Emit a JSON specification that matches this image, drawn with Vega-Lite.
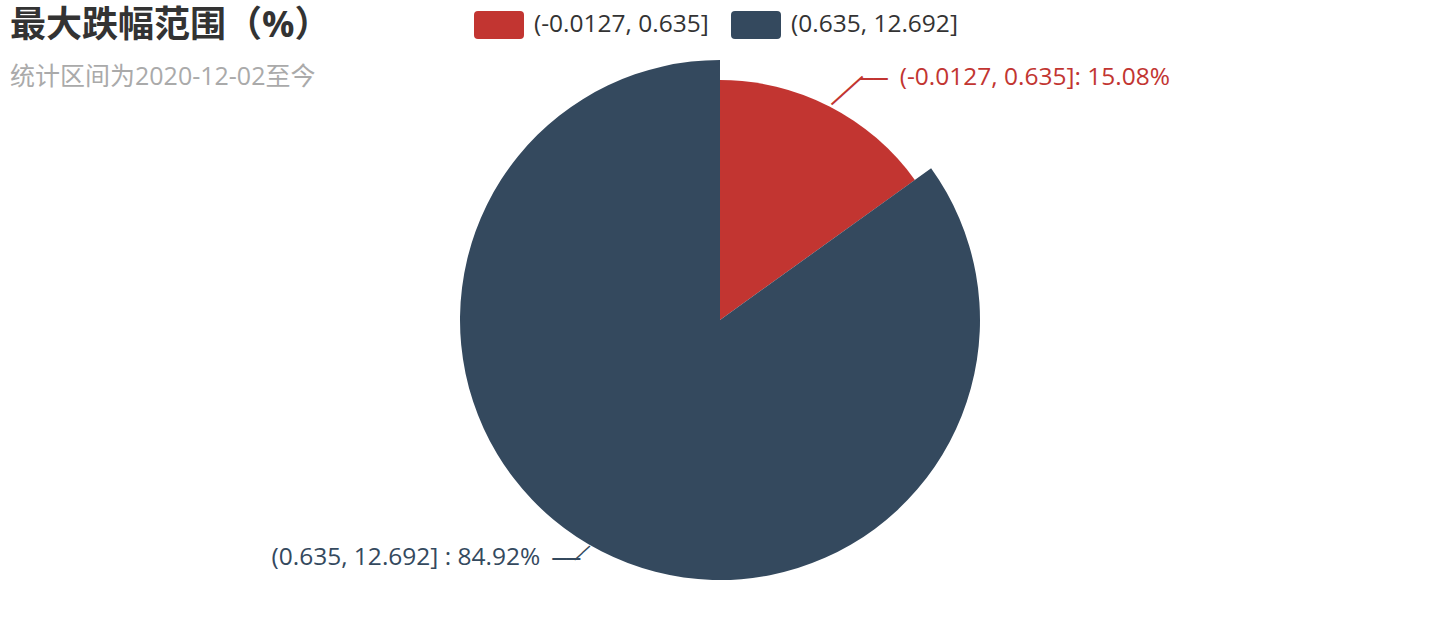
{
  "$schema": "https://vega.github.io/schema/vega-lite/v6.json",
  "width": 1440,
  "height": 640,
  "autosize": {"type": "none"},
  "padding": 0,
  "background": "white",
  "config": {"view": {"stroke": null}},
  "title": {
    "text": "最大跌幅范围（%）",
    "subtitle": "统计区间为2020-12-02至今",
    "anchor": "start",
    "frame": "group",
    "orient": "top",
    "baseline": "top",
    "offset": 0,
    "dx": 10,
    "dy": 91,
    "font": "'Open Sans', 'Noto Sans CJK SC'",
    "fontSize": 36,
    "fontWeight": "bold",
    "color": "#333333",
    "subtitleFont": "'Open Sans', 'Noto Sans CJK SC'",
    "subtitleFontSize": 25,
    "subtitleColor": "#aaaaaa",
    "subtitlePadding": 20
  },
  "data": {
    "values": [
      {"range": "(-0.0127, 0.635]", "pct": 15.08, "label": "(-0.0127, 0.635]: 15.08%"},
      {"range": "(0.635, 12.692]", "pct": 84.92, "label": "(0.635, 12.692] : 84.92%"}
    ]
  },
  "encoding": {
    "theta": {"field": "pct", "type": "quantitative", "stack": true},
    "color": {
      "field": "range",
      "type": "nominal",
      "scale": {"domain": ["(-0.0127, 0.635]", "(0.635, 12.692]"], "range": ["#c23531", "#34495e"]},
      "legend": {
        "title": null,
        "orient": "none",
        "direction": "horizontal",
        "legendX": 474,
        "legendY": 0,
        "padding": 0,
        "symbolType": "M-0.84,-0.56L0.84,-0.56Q1,-0.56 1,-0.4L1,0.4Q1,0.56 0.84,0.56L-0.84,0.56Q-1,0.56 -1,0.4L-1,-0.4Q-1,-0.56 -0.84,-0.56Z",
        "symbolSize": 2500,
        "symbolStrokeWidth": 0,
        "symbolOpacity": 1,
        "labelFont": "'Open Sans', 'Noto Sans CJK SC'",
        "labelFontSize": 24.5,
        "labelColor": "#333333",
        "labelLimit": 0,
        "labelOffset": 10,
        "columnPadding": 22
      }
    }
  },
  "layer": [
    {
      "mark": {"type": "arc", "strokeWidth": 0},
      "encoding": {
        "radius": {"field": "pct", "type": "quantitative", "scale": {"type": "linear", "domain": [15.08, 84.92], "range": [240, 260], "zero": false}},
        "radius2": {"value": 0}
      }
    },
    {
      "mark": {"type": "text", "align": "left", "baseline": "middle", "dx": 52, "dy": 7, "font": "'Open Sans', 'Noto Sans CJK SC'", "fontSize": 24.5},
      "encoding": {
        "radius": {"value": 280},
        "text": {"condition": {"test": "datum.range === '(-0.0127, 0.635]'", "field": "label"}, "value": ""}
      }
    },
    {
      "mark": {"type": "text", "align": "right", "baseline": "middle", "dx": -52, "dy": -11, "font": "'Open Sans', 'Noto Sans CJK SC'", "fontSize": 24.5},
      "encoding": {
        "radius": {"value": 280},
        "text": {"condition": {"test": "datum.range === '(0.635, 12.692]'", "field": "label"}, "value": ""}
      }
    },
    {
      "mark": {"type": "text", "align": "center", "baseline": "middle", "dx": 5, "dy": 8, "angle": -42, "font": "DejaVu Sans Mono", "fontSize": 23},
      "encoding": {
        "radius": {"value": 260},
        "text": {"condition": {"test": "datum.range === '(-0.0127, 0.635]'", "value": "───"}, "value": ""}
      }
    },
    {
      "mark": {"type": "text", "align": "center", "baseline": "middle", "dx": 26, "dy": 9, "font": "DejaVu Sans Mono", "fontSize": 23},
      "encoding": {
        "radius": {"value": 280},
        "text": {"condition": {"test": "datum.range === '(-0.0127, 0.635]'", "value": "──"}, "value": ""}
      }
    },
    {
      "mark": {"type": "text", "align": "center", "baseline": "middle", "dx": -15, "dy": -11, "angle": -43, "font": "DejaVu Sans Mono", "fontSize": 17},
      "encoding": {
        "radius": {"value": 260},
        "text": {"condition": {"test": "datum.range === '(0.635, 12.692]'", "value": "──"}, "value": ""}
      }
    },
    {
      "mark": {"type": "text", "align": "center", "baseline": "middle", "dx": -26, "dy": -9, "font": "DejaVu Sans Mono", "fontSize": 23},
      "encoding": {
        "radius": {"value": 280},
        "text": {"condition": {"test": "datum.range === '(0.635, 12.692]'", "value": "──"}, "value": ""}
      }
    }
  ]
}
